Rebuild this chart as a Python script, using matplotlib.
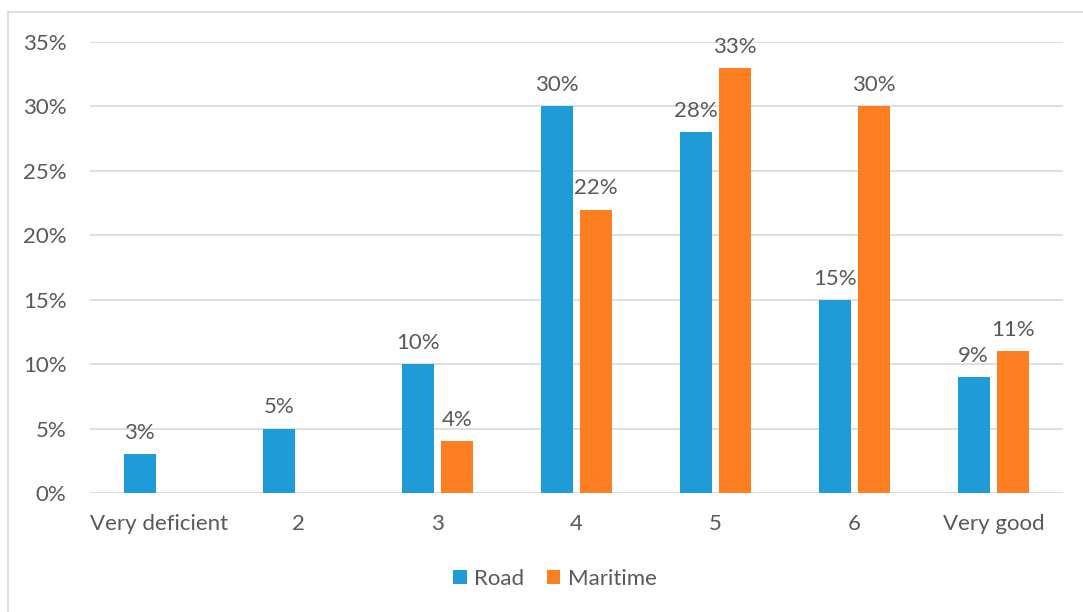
import matplotlib.pyplot as plt
import numpy as np
from matplotlib.lines import Line2D

categories = ["Very deficient", "2", "3", "4", "5", "6", "Very good"]
road = [3, 5, 10, 30, 28, 15, 9]
maritime = [0, 0, 4, 22, 33, 30, 11]
y_ticks = [0, 5, 10, 15, 20, 25, 30, 35]

blue = "#1f9bd7"
orange = "#fe7f22"
gray = "#595959"

plt.rcParams['font.family'] = ['Lato', 'DejaVu Sans']
fs = 16

fig = plt.figure(figsize=(10.83, 6.12), dpi=100)
ax = fig.add_axes([0.0831, 0.1944, 0.8984, 0.737])

x = np.arange(len(categories))
w = 0.23
off = 0.142
ax.bar(x - off, road, w, color=blue, label="Road", zorder=3)
ax.bar(x + off, maritime, w, color=orange, label="Maritime", zorder=3)

for xi, v in zip(x, road):
    ax.annotate("{0}%".format(v), (xi - off, v), xytext=(0, 8), textcoords="offset points",
                ha="center", va="bottom", fontsize=fs, color=gray)
for xi, v in zip(x, maritime):
    if v > 0:
        ax.annotate("{0}%".format(v), (xi + off, v), xytext=(0, 8), textcoords="offset points",
                    ha="center", va="bottom", fontsize=fs, color=gray)

ax.set_xlim(-0.5, len(categories) - 0.5)
ax.set_ylim(0, 35)
ax.set_yticks(y_ticks)
ax.set_yticklabels(["{0}%".format(t) for t in y_ticks])
ax.set_xticks(x)
ax.set_xticklabels(categories)
ax.tick_params(axis="both", length=0, labelsize=fs, labelcolor=gray)
ax.tick_params(axis="y", pad=17)
ax.tick_params(axis="x", pad=15)
ax.grid(axis="y", color="#d9d9d9", linewidth=1.2, zorder=0)
for s in ax.spines.values():
    s.set_visible(False)

ax.legend(loc="center", bbox_to_anchor=(0.478, -0.19), ncol=2, frameon=False,
          fontsize=fs, labelcolor=gray, handlelength=0.6, handleheight=0.6,
          handletextpad=0.35, columnspacing=1.0)

# chart border (left and top edges visible)
fig.add_artist(Line2D([0.0074, 0.0074], [0, 0.98], color="#d9d9d9", linewidth=1.2))
fig.add_artist(Line2D([0.0074, 1.0], [0.98, 0.98], color="#d9d9d9", linewidth=1.2))

fig.savefig("out.png", dpi=100)
